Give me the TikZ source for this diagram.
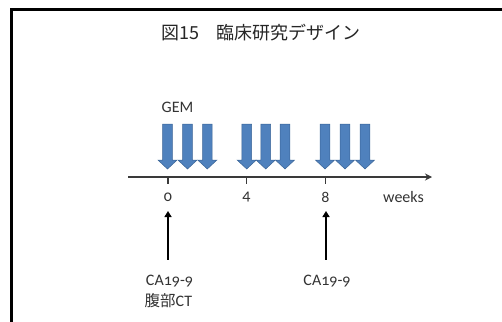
\documentclass[tikz,border=0pt]{standalone}
\usepackage{fontspec}
\setmainfont{Carlito}[Numbers=OldStyle]
\newfontfamily\jp{Noto Sans CJK JP}
\usetikzlibrary{arrows.meta}
\definecolor{gemfill}{HTML}{4F81BD}
\definecolor{gemline}{HTML}{3A6496}
\definecolor{axisc}{HTML}{3A3A3A}
\tikzset{
  lbl/.style={inner sep=0pt, font=\fontsize{16}{18}\selectfont, text=black!80},
  frame/.style={line width=2.6pt, black},
  axisline/.style={line width=1.2pt, axisc, -{Stealth[length=7pt,width=7pt]}},
  tick/.style={line width=1.2pt, axisc},
  upar/.style={line width=2.4pt, black, -{Triangle[length=6pt,width=7pt]}},
  pics/gemarrow/.style={code={
    \draw[fill=gemfill, draw=gemline, line width=0.5pt]
      (-4.8,-45) -- (4.8,-45) -- (4.8,-9) -- (9.6,-9) -- (0,0) -- (-9.6,-9) -- (-4.8,-9) -- cycle;
  }}
}
\begin{document}
\begin{tikzpicture}[x=1pt,y=-1pt]
\useasboundingbox (0,0) rectangle (502,321);
% frame
\coordinate (fb) at (11.3,330);
\coordinate (fc) at (11.3,9.6);
\coordinate (fr) at (510,9.6);
\draw[frame] (fb) -- (fc) -- (fr);
% title
\node[inner sep=0pt, font=\jp\fontsize{18}{20}\selectfont, text=black!85] (title) at (261,33) {図15\hspace{0.9em}臨床研究デザイン};
% GEM label
\node[lbl, anchor=west] (gem) at (161.5,107) {GEM};
% blue arrows (tips)
\foreach \x in {167.5,187.5,207.3,246.7,265.7,285,325,345,365}
  \pic at (\x,169) {gemarrow};
% axis
\coordinate (axL) at (128,177);
\coordinate (axR) at (432,177);
\draw[axisline] (axL) -- (axR);
\foreach \x/\n in {168/0,246.5/4,325.5/8}{
  \coordinate (tk\n) at (\x,177);
  \coordinate (tb\n) at (\x,184);
  \draw[tick] (tk\n) -- (tb\n);
}
\node[lbl] (l0) at (168,197) {0};
\node[lbl] (l4) at (246.5,197) {4};
\node[lbl] (l8) at (325.5,197) {8};
\node[lbl] (wk) at (403.5,197) {weeks};
% up arrows
\coordinate (ua0) at (168,259.5);
\coordinate (ut0) at (168,211);
\draw[upar] (ua0) -- (ut0);
\coordinate (ua8) at (326,259.5);
\coordinate (ut8) at (326,211);
\draw[upar] (ua8) -- (ut8);
% bottom labels
\node[lbl] (ca1) at (169.5,281) {CA19-9};
\node[lbl, anchor=west] (ct) at (144.5,301) {{\jp\fontsize{15.5}{18}\selectfont 腹部}CT};
\node[lbl] (ca2) at (327,281) {CA19-9};
\end{tikzpicture}
\end{document}
